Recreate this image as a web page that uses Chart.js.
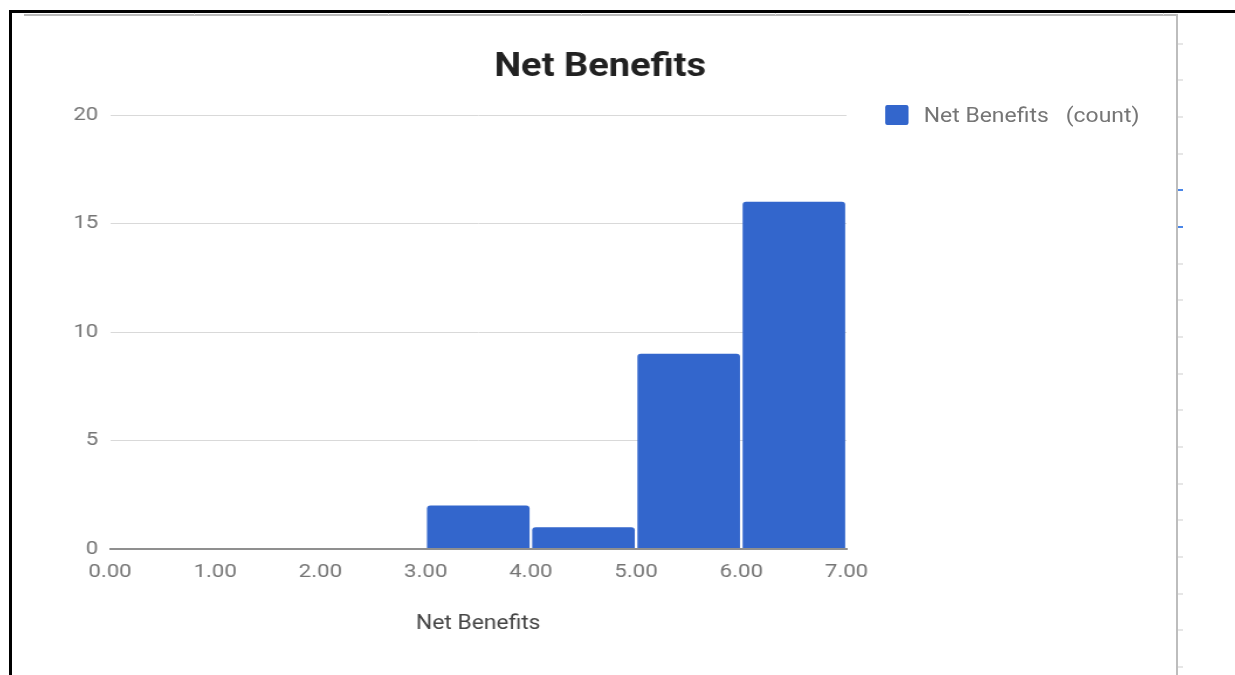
<!DOCTYPE html>
<html>
<head>
<meta charset="utf-8">
<title>Net Benefits</title>
<script src="https://cdn.jsdelivr.net/npm/chart.js@4/dist/chart.umd.min.js"></script>
<style>
  html, body { margin: 0; padding: 0; background: #fff; }
  body { width: 1235px; height: 675px; position: relative; overflow: hidden; font-family: Roboto, sans-serif; }
  .frame-top { position: absolute; left: 9px; top: 10px; width: 1226px; height: 3px; background: #000; }
  .frame-left { position: absolute; left: 9px; top: 10px; width: 3px; height: 665px; background: #000; }
  .sheet-top { position: absolute; left: 24px; top: 14px; width: 1154px; height: 2px; background: #b9b9b9; }
  .sheet-right { position: absolute; left: 1176px; top: 14px; width: 2px; height: 661px; background: #bdbdbd; }
  .col-sep { position: absolute; top: 13px; width: 1px; height: 2px; background: #e0e0e0; }
  .row-tick { position: absolute; left: 1178px; width: 5px; height: 2px; background: #e6e6e6; }
  .row-tick.sel { background: #4a86e8; }
  #wrap { position: absolute; left: 24px; top: 15px; width: 985px; height: 660px; transform: scaleX(1.17); transform-origin: 0 0; }
  #chart { position: absolute; left: 0; top: 0; }
  #legend { position: absolute; left: 736px; top: 90px; height: 20px; display: flex; align-items: center; }
  #legend .swatch { width: 20px; height: 20px; border-radius: 2px; background: #3366cc; }
  #legend .text { margin-left: 13px; font: 19.6px Roboto, sans-serif; color: #757575; white-space: pre; }
</style>
</head>
<body>
<div class="frame-top"></div>
<div class="frame-left"></div>
<div class="sheet-top"></div>
<div class="sheet-right"></div>
<div id="wrap">
  <canvas id="chart" width="985" height="660"></canvas>
  <div id="legend"><div class="swatch"></div><div class="text">Net Benefits   (count)</div></div>
</div>
<script>
// histogram bins and counts
const binEdges = [0, 1, 2, 3, 4, 5, 6, 7];
const counts = [0, 0, 0, 2, 1, 9, 16];
const xTicks = [0, 1, 2, 3, 4, 5, 6, 7];
const yTicks = [0, 5, 10, 15, 20];
const seriesName = "Net Benefits";
const barColor = "#3366cc";

// spreadsheet gridline stubs around the chart
for (let i = 1; i <= 6; i++) {
    const d = document.createElement("div");
    d.className = "col-sep";
    d.style.left = Math.round(i * 193.8) + "px";
    document.body.appendChild(d);
}
for (let i = 0; i < 18; i++) {
    const d = document.createElement("div");
    d.className = "row-tick" + (i === 4 || i === 5 ? " sel" : "");
    d.style.top = Math.round(42.5 + i * 36.67) + "px";
    document.body.appendChild(d);
}

Chart.defaults.font.family = "Roboto";

const histData = counts.map((c, i) => ({ x: (binEdges[i] + binEdges[i + 1]) / 2, y: c }));

new Chart(document.getElementById("chart"), {
    type: "bar",
    data: {
        datasets: [{
            label: seriesName,
            data: histData,
            backgroundColor: barColor,
            borderRadius: { topLeft: 3, topRight: 3 },
            borderSkipped: "start",
            barPercentage: 0.975,
            categoryPercentage: 1,
        }],
    },
    options: {
        responsive: false,
        animation: false,
        layout: { padding: 0 },
        plugins: {
            legend: { display: false },
            tooltip: { enabled: false },
            title: {
                display: true,
                text: "Net Benefits",
                color: "#212121",
                font: { size: 32.5, weight: "bold", lineHeight: 1.2 },
                padding: { top: 33, bottom: 28 },
            },
        },
        scales: {
            x: {
                type: "linear",
                offset: false,
                min: 0,
                max: 7,
                z: 1,
                grid: { display: false },
                border: { display: true, color: "#8f8f8f", width: 2 },
                afterBuildTicks: (s) => { s.ticks = xTicks.map((v) => ({ value: v })); },
                afterFit: (s) => { s.height = 126; },
                ticks: {
                    color: "#757575",
                    font: { size: 19 },
                    padding: 4,
                    maxRotation: 0,
                    autoSkip: false,
                    callback: (v) => Number(v).toFixed(2),
                },
                title: {
                    display: true,
                    text: "Net Benefits",
                    color: "#444444",
                    font: { size: 19.5 },
                    padding: { top: 0, bottom: 39 },
                },
            },
            y: {
                min: 0,
                max: 20,
                afterBuildTicks: (s) => { s.ticks = yTicks.map((v) => ({ value: v })); },
                afterFit: (s) => { s.width = 73.5; },
                border: { display: false },
                grid: {
                    drawTicks: false,
                    color: (c) => (c.tick && c.tick.value === 0 ? "#8f8f8f" : "#d9d9d9"),
                    lineWidth: (c) => (c.tick && c.tick.value === 0 ? 2 : 1),
                },
                ticks: { color: "#757575", font: { size: 19 }, padding: 10 },
            },
            // empty right-hand axis that reserves the legend column
            legendSpace: {
                type: "linear",
                position: "right",
                grid: { display: false },
                border: { display: false },
                ticks: { display: false },
                afterFit: (s) => { s.width = 282; },
            },
        },
    },
});
</script>
</body>
</html>
